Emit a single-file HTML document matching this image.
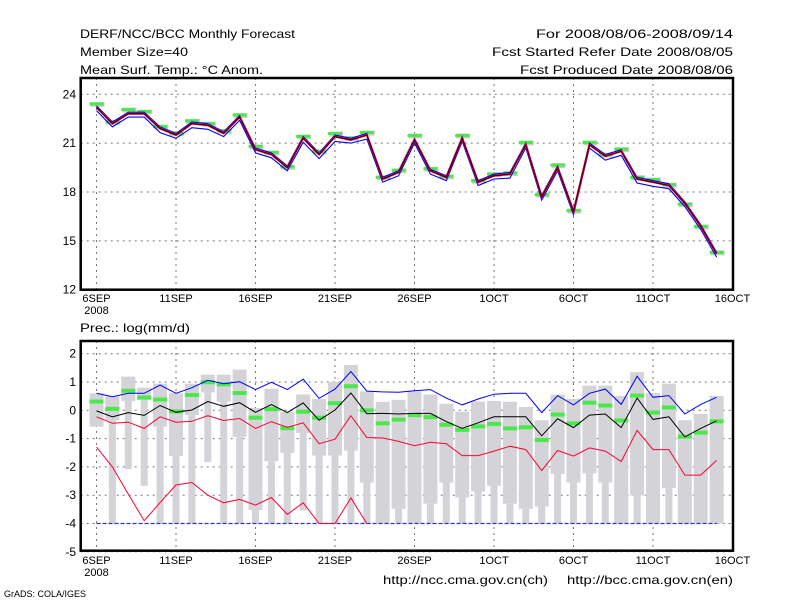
<!DOCTYPE html>
<html><head><meta charset="utf-8"><style>
body{margin:0;background:#fff;}
svg{display:block;font-family:"Liberation Sans",sans-serif;}
</style></head><body>
<svg id="c" width="800" height="600" viewBox="0 0 800 600">
<rect width="800" height="600" fill="#fff"/>
<g font-size="12" fill="#000">
<text x="80" y="38" textLength="215" lengthAdjust="spacingAndGlyphs">DERF/NCC/BCC Monthly Forecast</text>
<text x="80" y="56" textLength="108" lengthAdjust="spacingAndGlyphs">Member Size=40</text>
<text x="80" y="74" textLength="183" lengthAdjust="spacingAndGlyphs">Mean Surf. Temp.: °C Anom.</text>
<text x="536" y="38" textLength="197" lengthAdjust="spacingAndGlyphs">For 2008/08/06-2008/09/14</text>
<text x="492" y="56" textLength="241" lengthAdjust="spacingAndGlyphs">Fcst Started Refer Date 2008/08/05</text>
<text x="520" y="74" textLength="213" lengthAdjust="spacingAndGlyphs">Fcst Produced Date 2008/08/06</text>
<text x="80" y="332" textLength="110" lengthAdjust="spacingAndGlyphs">Prec.: log(mm/d)</text>
<text x="383" y="584" textLength="165" lengthAdjust="spacingAndGlyphs">http://ncc.cma.gov.cn(ch)</text>
<text x="567" y="584" textLength="166" lengthAdjust="spacingAndGlyphs">http://bcc.cma.gov.cn(en)</text>
<text x="4" y="597" font-size="9">GrADS: COLA/IGES</text>
</g>
<g id="topPanel"></g>
<g id="botPanel"></g>
</svg>
<script>
const tMean=[23.2,22.2,22.8,22.8,21.9,21.5,22.2,22.1,21.6,22.6,20.6,20.3,19.5,21.3,20.3,21.4,21.2,21.5,18.8,19.2,21.2,19.3,18.9,21.3,18.6,19.0,19.1,20.9,17.7,19.5,16.8,20.9,20.2,20.5,18.8,18.6,18.4,17.3,15.9,14.2];
const tHi=[23.3,22.3,22.9,22.9,22.0,21.6,22.3,22.2,21.7,22.7,20.7,20.4,19.6,21.4,20.4,21.5,21.3,21.6,18.9,19.3,21.3,19.4,19.0,21.4,18.7,19.1,19.2,21.0,17.8,19.6,16.9,21.0,20.3,20.6,18.9,18.7,18.5,17.4,16.0,14.3];
const tLo=[23.0,22.0,22.6,22.6,21.65,21.3,21.95,21.85,21.4,22.4,20.4,20.1,19.3,21.05,20.05,21.1,21.0,21.25,18.6,19.0,21.0,19.1,18.7,21.1,18.4,18.8,18.85,20.7,17.5,19.3,16.6,20.7,19.95,20.25,18.55,18.35,18.2,17.1,15.7,14.0];
const tObs=[23.41,22.31,23.06,22.94,22.02,21.61,22.37,22.2,21.76,22.73,20.8,20.43,19.55,21.41,20.49,21.59,21.31,21.65,18.9,19.33,21.47,19.43,18.96,21.47,18.69,19.1,19.16,21.04,17.84,19.65,16.86,21.04,20.29,20.63,18.9,18.76,18.45,17.25,15.88,14.29];
const pMax=[0.6,0.49,1.19,0.8,0.94,0.6,0.94,1.26,1.26,1.44,0.08,0.76,-0.05,0.56,0.4,1.0,1.6,0.67,0.3,0.37,0.67,0.56,0.23,-0.05,0.31,0.33,0.3,0.12,-0.35,0.55,0.4,0.87,0.87,0.51,1.35,0.61,0.94,-0.35,-0.13,0.51];
const pMid=[-0.58,-0.35,0.33,0.37,-0.58,-1.62,-0.17,0.63,0.31,-0.94,-3.52,-1.8,-1.51,-0.8,-1.6,-1.6,-1.42,-2.55,-4,-3.48,-4,-3.3,-2.55,-3.08,-2.87,-2.67,-3.3,-3.48,-3.4,-2.25,-2.55,-2.23,-2.55,-4,-3.01,-4,-2.75,-4,-4,-4];
const pMin=[-0.58,-4,-2.08,-2.67,-4,-4,-4,-1.83,-4,-4,-4,-4,-4,-3.54,-4,-4,-4,-4,-4,-4,-4,-4,-4,-4,-4,-4,-4,-4,-4,-4,-4,-4,-4,-4,-4,-4,-4,-4,-4,-4];
const pObs=[0.31,0.05,0.69,0.45,0.38,-0.04,0.54,0.99,0.92,0.61,-0.26,0.04,-0.63,-0.05,-0.26,0.25,0.85,0,-0.46,-0.33,-0.17,-0.24,-0.51,-0.69,-0.57,-0.48,-0.64,-0.6,-1.05,-0.15,-0.46,0.27,0.17,-0.36,0.52,-0.08,0.1,-0.93,-0.79,-0.39];
const pBlue=[0.6,0.48,0.6,0.6,0.89,0.6,0.8,1.06,0.94,1.01,0.73,0.99,0.73,1.1,0.42,0.75,1.37,0.68,0.65,0.64,0.69,0.73,0.43,0.19,0.4,0.57,0.6,0.6,-0.08,0.52,0.19,0.6,0.75,0.21,1.2,0.46,0.52,-0.13,0.21,0.46];
const pBlack=[-0.02,-0.23,-0.08,-0.18,0.17,-0.07,0.01,0.31,0.14,0.27,-0.07,0.2,-0.08,0.26,-0.35,0.01,0.61,-0.12,-0.11,-0.13,-0.11,-0.11,-0.4,-0.64,-0.44,-0.23,-0.23,-0.23,-0.9,-0.3,-0.61,-0.17,-0.13,-0.61,0.43,-0.32,-0.23,-0.94,-0.64,-0.37];
const pRed=[-0.23,-0.46,-0.42,-0.64,-0.23,-0.42,-0.39,-0.19,-0.36,-0.29,-0.64,-0.4,-0.6,-0.44,-1.18,-1.02,-0.19,-0.96,-0.98,-1.1,-1.25,-1.13,-1.18,-1.6,-1.6,-1.44,-1.27,-1.39,-2.13,-1.42,-1.62,-1.33,-1.44,-1.81,-0.71,-1.39,-1.39,-2.29,-2.29,-1.77];
const pRedLow=[-1.3,-2.0,-2.96,-3.9,-3.26,-2.64,-2.55,-3.0,-3.27,-3.15,-3.35,-3.08,-3.68,-3.27,-4,-4,-3.1,-4];
const xLabels=["6SEP","11SEP","16SEP","21SEP","26SEP","1OCT","6OCT","11OCT","16OCT"];
const tTicks=[12,15,18,21,24];
const pTicks=[-5,-4,-3,-2,-1,0,1,2];

const NS="http://www.w3.org/2000/svg";
const xs=d=>96.5+15.9*d;
const yT=v=>94.3+(24-v)*16.28;
const yB=v=>410.3-v*28.3;
function mk(p,tag,at){const e=document.createElementNS(NS,tag);for(const k in at)e.setAttribute(k,at[k]);p.appendChild(e);return e;}
function pts(arr,f){return arr.map((v,i)=>xs(i).toFixed(1)+","+f(v).toFixed(1)).join(" ");}

function panel(g,y0,y1,ticks,fy,xlY){
  ticks.forEach(t=>{
    const l=mk(g,"line",{x1:80.7,x2:733,y1:fy(t),y2:fy(t),stroke:"#777","stroke-dasharray":"2,4","stroke-width":1});
    
    
    const tx=mk(g,"text",{x:76,y:fy(t)+4,"text-anchor":"end","font-size":12});
    tx.textContent=String(t);
    
    
  });
  xLabels.forEach((s,i)=>{
    const x=xs(i*5);
    const l=mk(g,"line",{x1:x,x2:x,y1:y0,y2:y1,stroke:"#777","stroke-dasharray":"2,4","stroke-width":1});
    
    
    const tx=mk(g,"text",{x:x,y:xlY,"text-anchor":"middle","font-size":11});
    tx.textContent=s;
    
    
  });
  const yr=mk(g,"text",{x:xs(0),y:xlY+12,"text-anchor":"middle","font-size":11});
  yr.textContent="2008";
  
  
}
function frame(g,y0,y1){
  const f=mk(g,"rect",{x:80.7,y:y0,width:652.3,height:y1-y0,fill:"none",stroke:"#000","stroke-width":2.5});
  
  
}
function line(g,arr,f,col,w,name){
  const p=mk(g,"polyline",{points:pts(arr,f),fill:"none",stroke:col,"stroke-width":w});
  
  
}

// top panel
const topG=document.getElementById("topPanel");
panel(topG,78,289.7,tTicks,yT,302);
tObs.forEach((v,i)=>{
  const s=mk(topG,"rect",{x:xs(i)-6,y:yT(v)-2,width:14,height:5,fill:"#ccc"});
  
  
  const r=mk(topG,"rect",{x:xs(i)-7,y:yT(v)-1.5,width:14,height:3,fill:"#4be84b"});
  
  
});
line(topG,tHi,yT,"#0000ff",1.1,"ensemble-max-line");
line(topG,tLo,yT,"#0000ff",1.1,"ensemble-min-line");
line(topG,tMean,yT,"#ff0022",2,"ensemble-mean-line");
line(topG,tMean,yT,"#000",0.8,"ensemble-median-line");
frame(topG,78,289.7);

// bottom panel
const botG=document.getElementById("botPanel");
panel(botG,341,550.7,pTicks,yB,564);
pMax.forEach((v,i)=>{
  const n=mk(botG,"rect",{x:xs(i)-3.5,y:yB(pMid[i]),width:7,height:Math.max(0,yB(pMin[i])-yB(pMid[i])),fill:"#d3d3d8"});
  
  
  const b=mk(botG,"rect",{x:xs(i)-7,y:yB(v),width:14,height:Math.max(0,yB(pMid[i])-yB(v)),fill:"#d3d3d8"});
  
  
});
const base=mk(botG,"line",{x1:xs(0),x2:xs(39),y1:yB(-4),y2:yB(-4),stroke:"#3333cc","stroke-width":1.2,"stroke-dasharray":"4,2"});


pObs.forEach((v,i)=>{
  const r=mk(botG,"rect",{x:xs(i)-7,y:yB(v)-2,width:14,height:4,fill:"#4be84b"});
  
  
});
line(botG,pBlue,yB,"#0000ff",1,"precip-upper-line");
line(botG,pBlack,yB,"#000",1,"precip-mean-line");
line(botG,pRed,yB,"#ff0033",1,"precip-lower-line");
line(botG,pRedLow,yB,"#ff0033",1,"precip-min-line");
frame(botG,341,550.7);
</script>
</body></html>
